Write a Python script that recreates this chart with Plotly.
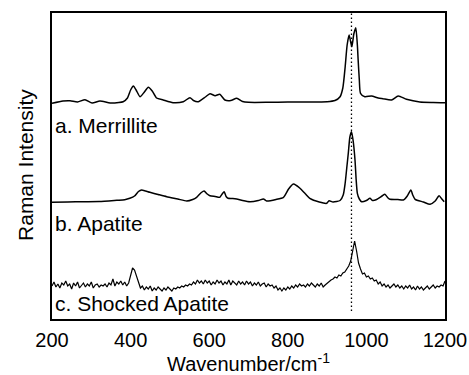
import plotly.graph_objects as go

# ---- data ----
merrillite_w = [200, 228, 246, 265, 284, 302, 322, 348, 370, 381, 392, 400, 407, 414, 424, 435, 445, 455, 466, 483,
                508, 534, 551, 560, 572, 590, 602, 615, 627, 640, 655, 670, 685, 700, 750, 800, 850, 900, 920, 933,
                940, 946, 951, 956, 960, 963, 968, 973, 977, 979, 982, 985, 996, 1013, 1030, 1042, 1064, 1081, 1102,
                1136, 1170, 1200]
merrillite_i = [215.7, 218, 218.3, 217, 219.3, 216, 218, 216, 216.5, 217.3, 221, 229, 233, 229, 222.3, 227, 231.7, 228,
                221, 219, 216.3, 217.3, 221.3, 218.5, 217.3, 222, 225.3, 223.3, 224.7, 219, 218.5, 220.7, 217.5, 216.7,
                216.7, 217, 217, 217.3, 218.5, 222.3, 231, 252.3, 274, 284, 277, 272.3, 285, 291.3, 274, 259, 239,
                225.7, 222.3, 223, 221, 220.3, 219, 223, 219.7, 217, 216.5, 216.3]

apatite_w = [200, 240, 280, 320, 365, 385, 398, 410, 420, 428, 438, 449, 470, 492, 520, 543, 558, 568, 580, 587,
             595, 602, 615, 627, 633, 638, 643, 648, 660, 670, 685, 704, 725, 738, 746, 770, 789, 802, 814, 822,
             831, 845, 856, 880, 899, 905, 915, 933, 941, 946, 950, 954, 958, 962, 966, 971, 974, 977, 982, 988,
             1000, 1009, 1016, 1026, 1040, 1047, 1055, 1060, 1080, 1094, 1104, 1113, 1118, 1124, 1145, 1162, 1175,
             1185, 1192, 1198]
apatite_i = [116.7, 117, 117.3, 117.5, 118.7, 119.3, 120.7, 123, 127.5, 129, 128, 126.7, 124.5, 122.3, 120, 118, 119.5,
             121.7, 126.5, 128, 125, 123.3, 122.5, 121.7, 125, 127.3, 122.5, 120.7, 120.5, 120, 118.5, 117.3, 118.5,
             120, 118, 119.5, 121.7, 130, 135, 133.5, 130.7, 125, 120.7, 117, 115.7, 118.3, 117, 118.5, 124, 136,
             151, 166, 182, 187.3, 179, 159, 139, 125.7, 120, 117.3, 118.5, 120.7, 118.5, 119.5, 123, 124.7, 121,
             119.7, 119.5, 119, 123, 129, 124, 119.7, 117, 114.7, 118, 123.3, 120, 117.3]

shocked_w = list(range(200, 1201, 5))
shocked_i = [33, 37, 32, 35, 31, 36, 34, 38, 33, 35,
             30, 36, 33, 37, 31, 34, 36, 32, 35, 33,
             37, 31, 34, 35, 32, 34, 33, 35, 32, 36,
             34, 40, 33, 37, 35, 38, 34, 37, 33, 36,
             44, 51, 49, 43, 35, 31, 33, 29, 32, 30,
             33, 28, 31, 29, 32, 30, 28, 31, 29, 32,
             30, 28, 31, 30, 32, 31, 33, 32, 34, 33,
             35, 34, 37, 35, 39, 36, 38, 35, 39, 36,
             38, 34, 37, 35, 39, 36, 38, 34, 37, 35,
             39, 34, 38, 36, 34, 38, 35, 37, 34, 38,
             35, 37, 33, 36, 34, 37, 33, 35, 36, 32,
             35, 33, 34, 31, 33, 29, 31, 28, 31, 29,
             32, 30, 33, 31, 34, 32, 35, 33, 34, 32,
             35, 33, 36, 34, 32, 35, 33, 36, 32, 34,
             36, 38, 39, 40, 42, 41, 44, 43, 46, 47,
             50, 53, 58, 68, 78, 68, 56, 50, 45, 46,
             42, 43, 40, 41, 38, 39, 35, 37, 33, 35,
             32, 34, 31, 33, 35, 32, 34, 31, 33, 30,
             33, 31, 34, 30, 32, 29, 33, 30, 32, 29,
             31, 33, 30, 32, 34, 31, 33, 32, 34, 33,
             38]

labels = ["a. Merrillite", "b. Apatite", "c. Shocked Apatite"]
label_y = [194, 96, 16]
marker_w = 962
x_ticks = [200, 400, 600, 800, 1000, 1200]

FONT = "Liberation Sans, Arial, sans-serif"

fig = go.Figure()
for w, i in [(merrillite_w, merrillite_i), (apatite_w, apatite_i)]:
    fig.add_trace(go.Scatter(x=w, y=i, mode="lines",
                             line=dict(color="black", width=1.5, shape="spline", smoothing=0.6),
                             showlegend=False, hoverinfo="skip"))
fig.add_trace(go.Scatter(x=shocked_w, y=shocked_i, mode="lines",
                         line=dict(color="black", width=1.2),
                         showlegend=False, hoverinfo="skip"))

fig.add_shape(type="line", x0=marker_w, x1=marker_w, y0=8, y1=306, xref="x", yref="y",
              line=dict(color="black", width=1.3, dash="1.5px,2.5px"), layer="below")

for t, yv in zip(labels, label_y):
    fig.add_annotation(x=0.002, xref="paper", y=yv, yref="y", text=t, showarrow=False,
                       xanchor="left", yanchor="middle", font=dict(size=21, color="black", family=FONT))

fig.add_annotation(x=-0.069, xref="paper", y=0.503, yref="paper", text="Raman Intensity", textangle=-90,
                   showarrow=False, xanchor="center", yanchor="middle",
                   font=dict(size=21, color="black", family=FONT))

fig.update_layout(
    width=469, height=375,
    margin=dict(l=52, r=24, t=13, b=56, autoexpand=False),
    paper_bgcolor="white", plot_bgcolor="white",
    font=dict(family=FONT, size=20, color="black"),
    xaxis=dict(range=[200, 1200], tickvals=x_ticks, ticks="", showgrid=False, zeroline=False,
               showline=True, linecolor="black", linewidth=1.5, mirror=True, automargin=False,
               ticklabelstandoff=2, tickfont=dict(size=20),
               title=dict(text="Wavenumber/cm<sup>-1</sup>", standoff=15, font=dict(size=20))),
    yaxis=dict(range=[0, 306], showticklabels=False, ticks="", showgrid=False, zeroline=False,
               showline=True, linecolor="black", linewidth=1.5, mirror=True, automargin=False),
)

fig.write_html("out.html")
